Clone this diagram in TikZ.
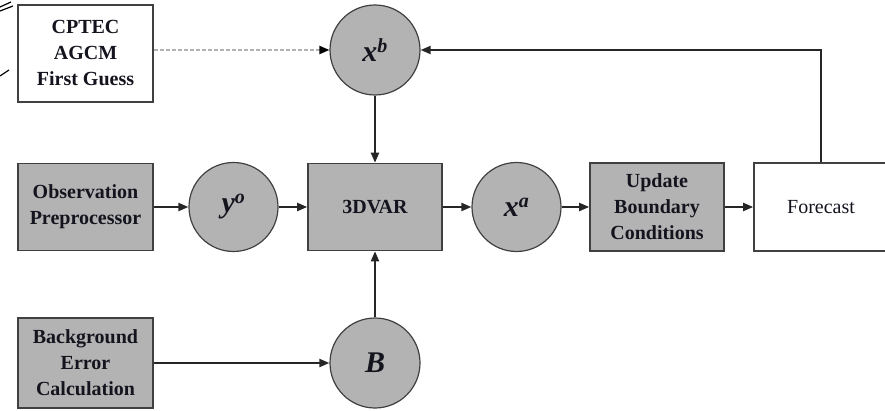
\documentclass[tikz,border=0pt]{standalone}
\usepackage{fontspec}
\setmainfont{Liberation Serif}
\usetikzlibrary{arrows.meta}
\definecolor{boxgray}{RGB}{179,179,179}
\definecolor{edgegray}{RGB}{64,64,64}
\definecolor{txt}{RGB}{20,20,30}
\tikzset{
  gbox/.style={draw=edgegray, line width=1.6pt, fill=boxgray, inner sep=0pt, align=center,
    font=\fontsize{20}{26}\selectfont\bfseries, text=txt},
  wbox/.style={draw=edgegray, line width=1.6pt, fill=white, inner sep=0pt, align=center,
    font=\fontsize{20}{26}\selectfont, text=txt},
  var/.style={circle, draw=edgegray, line width=1.2pt, fill=boxgray, inner sep=0pt,
    minimum size=89pt, font=\fontsize{30}{30}\selectfont\bfseries\itshape, text=txt},
  conn/.style={draw=black!85, line width=2pt, -{Triangle[length=10pt,width=8pt]}},
  dotconn/.style={draw=gray!60, line width=2pt, dash pattern=on 4pt off 2pt,
    -{Triangle[length=10pt,width=8pt,color=black]}},
  stray/.style={draw=black, line width=1.2pt}
}
\newcommand{\vlab}[2]{#1\textsuperscript{\fontsize{20}{20}\selectfont #2}}
\begin{document}
\begin{tikzpicture}[x=1pt,y=-1pt]
\useasboundingbox (0,0) rectangle (885,411);
% nodes
\node[wbox, minimum width=135pt, minimum height=97pt, font=\fontsize{20}{26}\selectfont\bfseries] (cptec) at (85.5,53.5) {CPTEC\\AGCM\\First Guess};
\node[gbox, minimum width=135pt, minimum height=87pt] (obs) at (85.5,207) {Observation\\Preprocessor};
\node[gbox, minimum width=135pt, minimum height=90pt] (bec) at (85.5,363) {Background\\Error\\Calculation};
\node[var, minimum size=90pt] (xb) at (375,50) {\vlab{x}{b}};
\node[var] (yo) at (233.5,207) {\vlab{y}{o}};
\node[gbox, minimum width=134pt, minimum height=87pt] (dvar) at (375,207) {3DVAR};
\node[var] (xa) at (516.5,207) {\vlab{x}{a}};
\node[gbox, minimum width=134pt, minimum height=88pt] (upd) at (657,207) {Update\\Boundary\\Conditions};
\node[wbox, minimum width=134pt, minimum height=88pt] (fc) at (821,207) {Forecast};
\node[var, minimum size=90pt] (B) at (375,363) {B};
% connectors
\draw[dotconn] (cptec.east |- xb.west) -- (xb.west);
\draw[conn] (xb.south) -- (dvar.north);
\draw[conn] (B.north) -- (dvar.south);
\draw[conn] (obs.east |- yo.west) -- (yo.west);
\draw[conn] (yo.east) -- (dvar.west |- yo.east);
\draw[conn] (dvar.east |- xa.west) -- (xa.west);
\draw[conn] (xa.east) -- (upd.west |- xa.east);
\draw[conn] (upd.east) -- (fc.west);
\draw[conn] (bec.east) -- (B.west);
\coordinate (fbtop) at (821,50);
\draw[conn] (fc.north) -- (fbtop) -- (xb.east);
% stray marks at left edge
\draw[stray] (0,7) -- (11,2);
\draw[stray] (0,11) -- (13,6);
\draw[stray] (0,76) -- (9,70);
\end{tikzpicture}
\end{document}
